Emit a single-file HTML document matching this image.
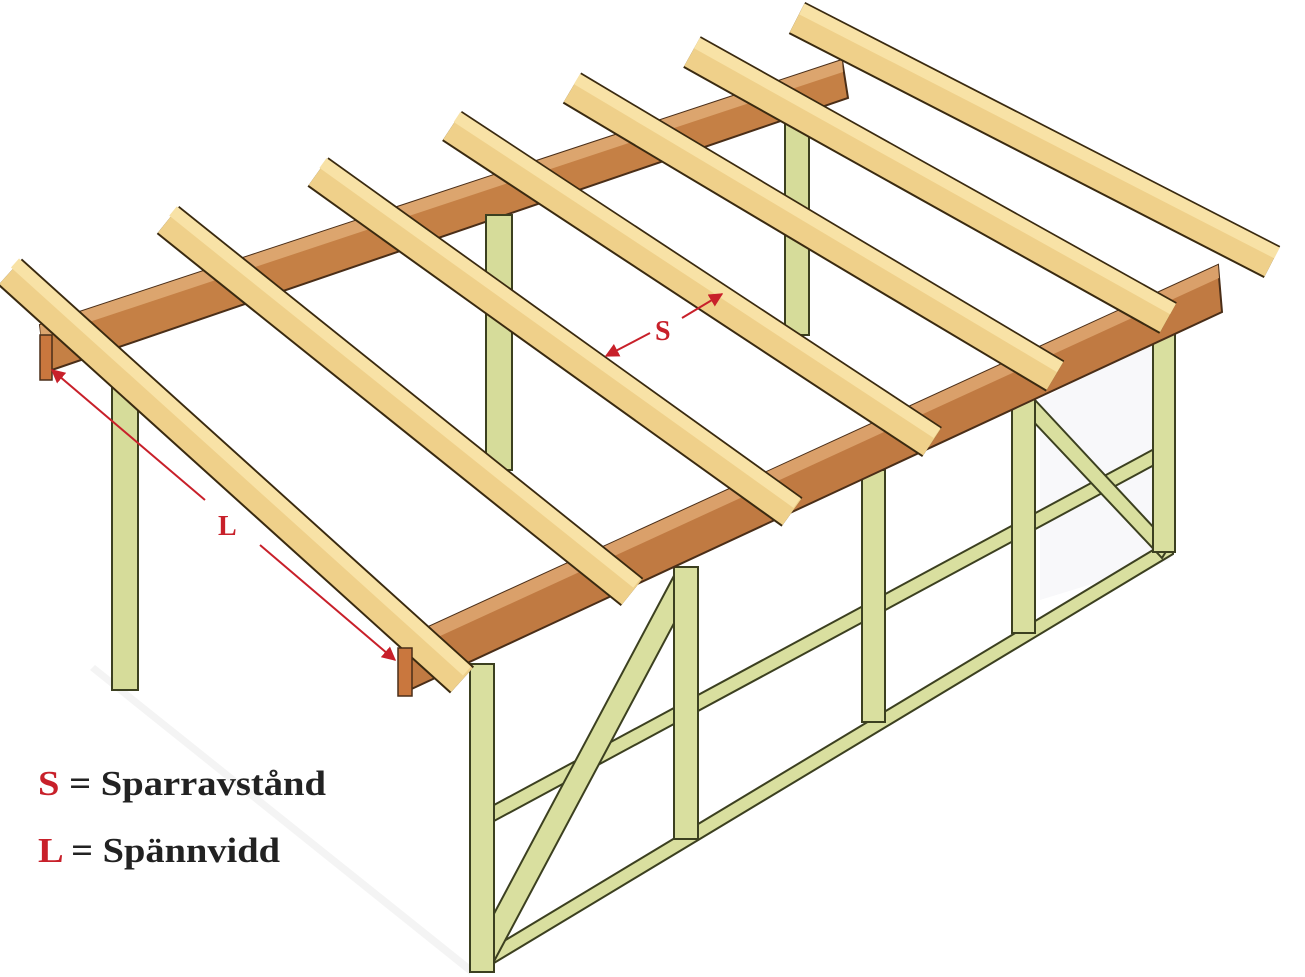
<!DOCTYPE html>
<html><head><meta charset="utf-8"><style>
html,body{margin:0;padding:0;background:#fff;}
svg{display:block;}
</style></head><body>
<svg width="1305" height="977" viewBox="0 0 1305 977" xmlns="http://www.w3.org/2000/svg">
<defs>
<marker id="ar" viewBox="0 0 10 10" refX="9" refY="5" markerWidth="7" markerHeight="7" orient="auto-start-reverse"><path d="M0,0 L10,5 L0,10 z" fill="#c8202a"/></marker>
</defs>
<rect width="1305" height="977" fill="#fff"/>
<polygon points="95,665 470,965 470,975 90,670" fill="#f4f4f4"/>
<polygon points="1040,400 1170,330 1170,560 1040,600" fill="#f8f8fa"/>
<!-- back beam -->
<polygon points="40,325 842,60 848,98 46,372" fill="#c58045" stroke="#4a2e18" stroke-width="2"/>
<polygon points="40,325 842,60 843,72 41,338" fill="#dca56e"/>
<!-- back posts -->
<g stroke="#3c4020" stroke-width="2" fill="#d6dc9a">
<rect x="112" y="380" width="26" height="310"/>
<rect x="486" y="215" width="26" height="255"/>
<rect x="785" y="120" width="24" height="215"/>
</g>
<!-- front wall frame -->
<g stroke="#3c4020" stroke-width="2" fill="#d9df9f">
<polygon points="494,805 1169,441 1169,457 494,821"/>
<polygon points="494,947 1173,538 1173,554 494,963"/>
<polygon points="472,955 676,572 696,582 492,965"/>
<polygon points="1035,400 1170,545 1162,558 1030,418"/>
<rect x="470" y="664" width="24" height="308"/>
<rect x="674" y="567" width="24" height="272"/>
<rect x="862" y="470" width="23" height="252"/>
<rect x="1012" y="393" width="23" height="240"/>
<rect x="1153" y="320" width="22" height="232"/>
</g>
<!-- front beam -->
<polygon points="400,640 1218,265 1222,312 405,692" fill="#c07a42" stroke="#4a2e18" stroke-width="2"/>
<polygon points="400,640 1218,265 1219,278 401,654" fill="#daa06a"/>
<!-- rafters -->
<g stroke-linecap="butt">
<line x1="10" y1="272" x2="462" y2="680" stroke="#3a2a10" stroke-width="36"/>
<line x1="10" y1="272" x2="462" y2="680" stroke="#efd08a" stroke-width="32"/>
<line x1="15" y1="263" x2="467" y2="671" stroke="#f8e2a6" stroke-width="12"/>
<line x1="168" y1="220" x2="632" y2="592" stroke="#3a2a10" stroke-width="36"/>
<line x1="168" y1="220" x2="632" y2="592" stroke="#efd08a" stroke-width="32"/>
<line x1="173" y1="211" x2="637" y2="583" stroke="#f8e2a6" stroke-width="12"/>
<line x1="318" y1="172" x2="792" y2="512" stroke="#3a2a10" stroke-width="36"/>
<line x1="318" y1="172" x2="792" y2="512" stroke="#efd08a" stroke-width="32"/>
<line x1="323" y1="163" x2="797" y2="503" stroke="#f8e2a6" stroke-width="12"/>
<line x1="452" y1="126" x2="932" y2="442" stroke="#3a2a10" stroke-width="36"/>
<line x1="452" y1="126" x2="932" y2="442" stroke="#efd08a" stroke-width="32"/>
<line x1="457" y1="117" x2="937" y2="433" stroke="#f8e2a6" stroke-width="12"/>
<line x1="572" y1="88" x2="1055" y2="376" stroke="#3a2a10" stroke-width="36"/>
<line x1="572" y1="88" x2="1055" y2="376" stroke="#efd08a" stroke-width="32"/>
<line x1="577" y1="79" x2="1060" y2="367" stroke="#f8e2a6" stroke-width="12"/>
<line x1="692" y1="52" x2="1168" y2="318" stroke="#3a2a10" stroke-width="36"/>
<line x1="692" y1="52" x2="1168" y2="318" stroke="#efd08a" stroke-width="32"/>
<line x1="697" y1="43" x2="1173" y2="309" stroke="#f8e2a6" stroke-width="12"/>
<line x1="797" y1="18" x2="1272" y2="262" stroke="#3a2a10" stroke-width="36"/>
<line x1="797" y1="18" x2="1272" y2="262" stroke="#efd08a" stroke-width="32"/>
<line x1="802" y1="9" x2="1277" y2="253" stroke="#f8e2a6" stroke-width="12"/>
</g>
<g fill="#c9773e" stroke="#4a2e18" stroke-width="1.5">
<rect x="40" y="335" width="12" height="45"/>
<rect x="398" y="648" width="14" height="48"/>
</g>
<!-- dimension arrows -->
<line x1="52" y1="370" x2="205" y2="500" stroke="#c8202a" stroke-width="2" marker-start="url(#ar)"/>
<line x1="260" y1="545" x2="395" y2="660" stroke="#c8202a" stroke-width="2" marker-end="url(#ar)"/>
<text x="218" y="535" font-family="Liberation Serif, serif" font-weight="bold" font-size="28" fill="#c8202a">L</text>
<line x1="606" y1="356" x2="650" y2="333" stroke="#c8202a" stroke-width="2" marker-start="url(#ar)"/>
<line x1="682" y1="318" x2="722" y2="294" stroke="#c8202a" stroke-width="2" marker-end="url(#ar)"/>
<text x="655" y="340" font-family="Liberation Serif, serif" font-weight="bold" font-size="28" fill="#c8202a">S</text>
<!-- legend -->
<text x="38" y="795" font-family="Liberation Serif, serif" font-weight="bold" font-size="35" fill="#222" textLength="288" lengthAdjust="spacingAndGlyphs"><tspan fill="#c8202a">S</tspan> = Sparravstånd</text>
<text x="38" y="862" font-family="Liberation Serif, serif" font-weight="bold" font-size="35" fill="#222" textLength="242" lengthAdjust="spacingAndGlyphs"><tspan fill="#c8202a">L</tspan> = Spännvidd</text>
</svg>
</body></html>
